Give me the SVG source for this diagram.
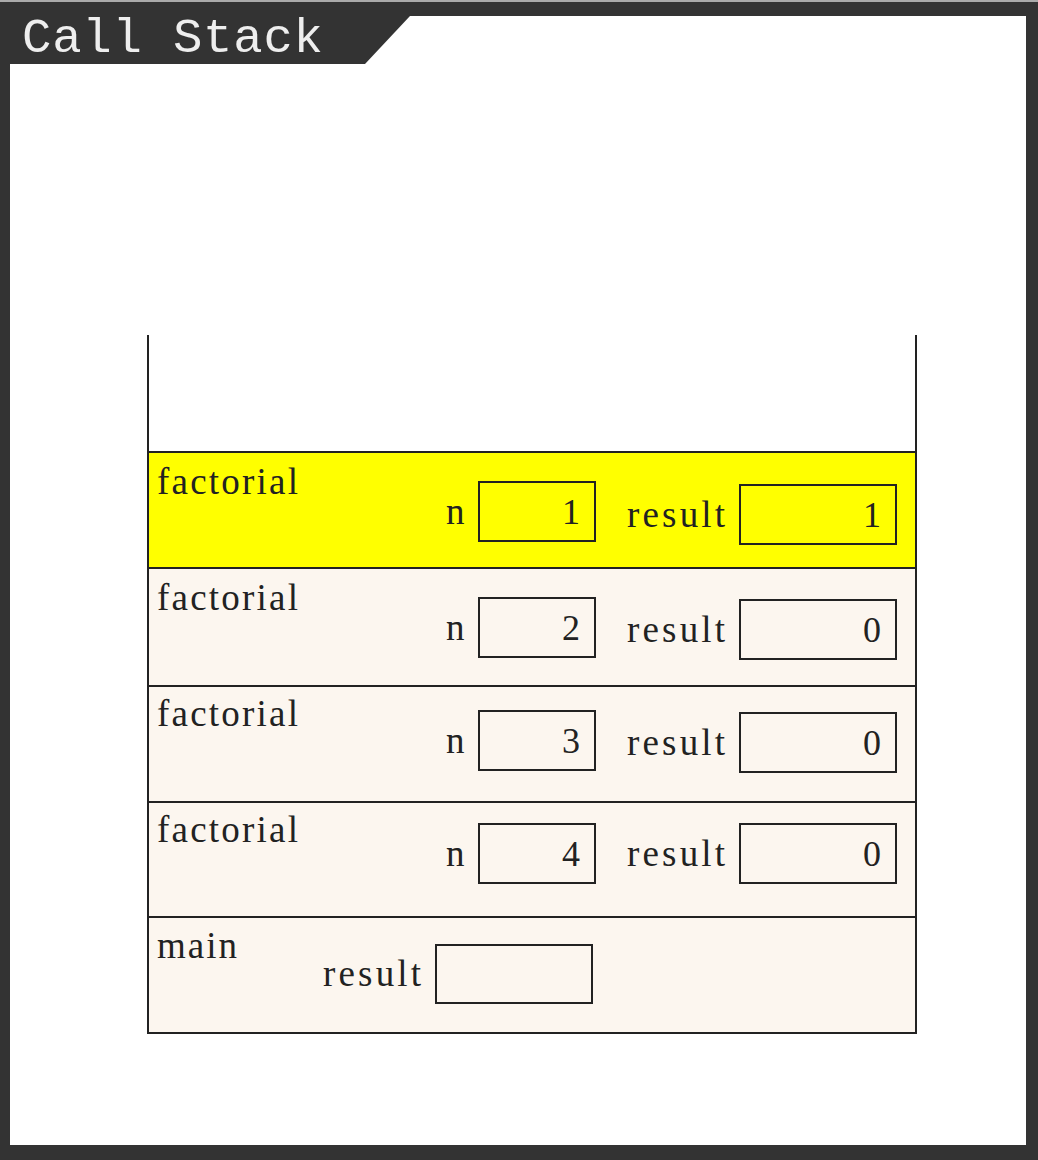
<svg xmlns="http://www.w3.org/2000/svg" width="1038" height="1160" viewBox="0 0 1038 1160">
<style>
.lbl{font-family:"Liberation Serif","Times New Roman",serif;font-size:37px;fill:#222}
.val{font-family:"Liberation Serif","Times New Roman",serif;font-size:36px;fill:#222;text-anchor:end}
.box{fill:none;stroke:#222;stroke-width:2}
.frame{fill:#fcf6ef;stroke:#222;stroke-width:2}
.line{stroke:#222;stroke-width:2;fill:none}
</style>
<rect x="0" y="0" width="1038" height="1160" fill="#333"/>
<rect x="0" y="0" width="1038" height="2" fill="#aaa"/>
<polygon points="10,64 365,64 410,16 1026,16 1026,1145 10,1145" fill="#fff"/>
<text x="22" y="52" font-family="Liberation Mono,Courier New,monospace" font-size="49" fill="#eee" textLength="301">Call Stack</text>
<g id="stack">
<line class="line" x1="148" y1="335" x2="148" y2="1033"/>
<line class="line" x1="916" y1="335" x2="916" y2="1033"/>
</g>
<g id="frame1">
<rect x="148" y="452" width="768" height="116" fill="#ffff00" stroke="#222" stroke-width="2"/>
<text class="lbl" x="157" y="494" textLength="141">factorial</text>
<text class="lbl" x="446" y="524">n</text>
<rect class="box" x="479" y="482" width="116" height="59"/>
<text class="val" x="580" y="524">1</text>
<text class="lbl" x="627" y="527" textLength="98">result</text>
<rect class="box" x="740" y="485" width="156" height="59"/>
<text class="val" x="881" y="527">1</text>
</g>
<g id="frame2">
<rect class="frame" x="148" y="568" width="768" height="118"/>
<text class="lbl" x="157" y="610" textLength="141">factorial</text>
<text class="lbl" x="446" y="640">n</text>
<rect class="box" x="479" y="598" width="116" height="59"/>
<text class="val" x="580" y="640">2</text>
<text class="lbl" x="627" y="642" textLength="98">result</text>
<rect class="box" x="740" y="600" width="156" height="59"/>
<text class="val" x="881" y="642">0</text>
</g>
<g id="frame3">
<rect class="frame" x="148" y="686" width="768" height="116"/>
<text class="lbl" x="157" y="726" textLength="141">factorial</text>
<text class="lbl" x="446" y="753">n</text>
<rect class="box" x="479" y="711" width="116" height="59"/>
<text class="val" x="580" y="753">3</text>
<text class="lbl" x="627" y="755" textLength="98">result</text>
<rect class="box" x="740" y="713" width="156" height="59"/>
<text class="val" x="881" y="755">0</text>
</g>
<g id="frame4">
<rect class="frame" x="148" y="802" width="768" height="115"/>
<text class="lbl" x="157" y="842" textLength="141">factorial</text>
<text class="lbl" x="446" y="866">n</text>
<rect class="box" x="479" y="824" width="116" height="59"/>
<text class="val" x="580" y="866">4</text>
<text class="lbl" x="627" y="866" textLength="98">result</text>
<rect class="box" x="740" y="824" width="156" height="59"/>
<text class="val" x="881" y="866">0</text>
</g>
<g id="main">
<rect class="frame" x="148" y="917" width="768" height="116"/>
<text class="lbl" x="157" y="958" textLength="80">main</text>
<text class="lbl" x="323" y="986" textLength="98">result</text>
<rect class="box" x="436" y="945" width="156" height="58"/>
</g>
</svg>
